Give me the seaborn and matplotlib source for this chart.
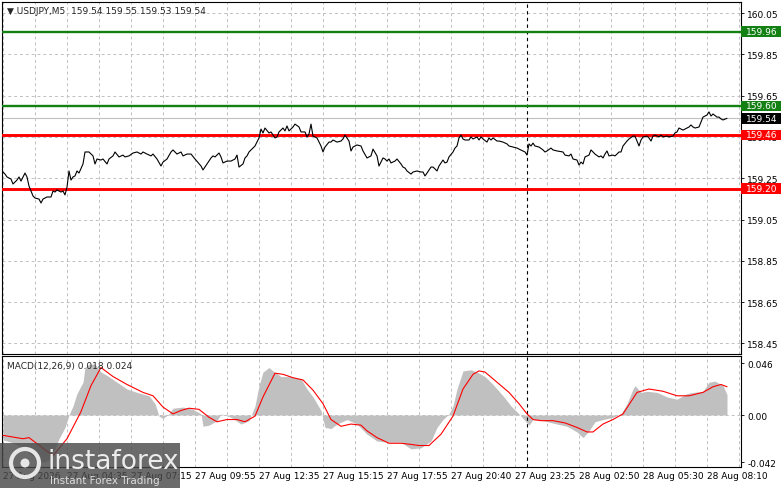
import numpy as np
import pandas as pd
import matplotlib
matplotlib.use("Agg")
import matplotlib.pyplot as plt
import matplotlib.transforms as mtransforms
from matplotlib.patches import Rectangle, Circle
import seaborn as sns

# USDJPY M5 closes (bar index from the left, price)
bars = [0, 1, 2, 4, 5, 7, 8, 9, 10, 11, 12, 13, 15, 16, 18, 19, 20, 22, 24, 25, 26, 27, 29, 30, 31, 32, 33, 34, 35, 36, 37, 38,
        40, 41, 43, 45, 46, 47, 49, 50, 52, 53, 55, 56, 58, 60, 61, 63, 65, 67, 69, 70, 72, 74, 75, 77, 79, 80, 82, 84, 85, 87,
        89, 90, 92, 94, 96, 99, 100, 102, 103, 104, 105, 106, 108, 109, 110, 112, 114, 116, 117, 118, 120, 121, 122, 123, 125,
        126, 128, 129, 130, 131, 133, 134, 136, 137, 138, 140, 141, 142, 143, 145, 146, 148, 149, 151, 152, 153, 154, 155, 157,
        158, 159, 160, 161, 163, 164, 165, 167, 169, 170, 171, 173, 174, 175, 177, 179, 180, 182, 184, 185, 187, 188, 190, 191,
        192, 193, 194, 196, 197, 199, 200, 201, 202, 204, 205, 207, 209, 210, 211, 212, 214, 215, 216, 217, 218, 220, 221, 222,
        223, 225, 226, 227, 228, 229, 230, 231, 233, 234, 235, 237, 238, 239, 240, 242, 243, 244, 245, 247, 248, 250, 252, 253,
        255, 257, 258, 260, 261, 262, 263, 264, 265, 266, 268, 270, 271, 272, 274, 275, 277, 280, 281, 283, 284, 285, 287, 288,
        289, 290, 291, 293, 294, 295, 296, 298, 299, 300, 301, 302, 303, 305, 306, 307, 308, 309, 310, 312, 313, 315, 316, 317,
        318, 319, 320, 322, 323, 324, 325, 326, 328, 329, 330, 332, 333, 335, 336, 337, 338, 340, 341, 343, 344, 345, 346, 348,
        349, 350, 352, 353, 354, 355, 357, 358, 359, 360, 362]
close = [159.280, 159.270, 159.256, 159.246, 159.222, 159.241, 159.256, 159.236, 159.256, 159.275, 159.256, 159.212, 159.164,
         159.154, 159.149, 159.130, 159.149, 159.159, 159.159, 159.188, 159.183, 159.193, 159.183, 159.188, 159.169, 159.207,
         159.285, 159.241, 159.256, 159.261, 159.285, 159.275, 159.319, 159.377, 159.377, 159.358, 159.319, 159.343, 159.338,
         159.343, 159.319, 159.343, 159.358, 159.377, 159.353, 159.362, 159.353, 159.358, 159.372, 159.377, 159.367, 159.377,
         159.367, 159.358, 159.367, 159.343, 159.309, 159.328, 159.343, 159.377, 159.387, 159.367, 159.377, 159.358, 159.367,
         159.367, 159.343, 159.309, 159.290, 159.319, 159.333, 159.348, 159.358, 159.353, 159.372, 159.353, 159.324, 159.333,
         159.333, 159.343, 159.362, 159.304, 159.319, 159.348, 159.358, 159.377, 159.396, 159.406, 159.445, 159.488, 159.469,
         159.493, 159.469, 159.474, 159.445, 159.450, 159.474, 159.493, 159.479, 159.503, 159.479, 159.498, 159.512, 159.498,
         159.474, 159.474, 159.450, 159.464, 159.512, 159.454, 159.445, 159.425, 159.406, 159.377, 159.401, 159.425, 159.425,
         159.435, 159.425, 159.430, 159.440, 159.459, 159.430, 159.382, 159.401, 159.411, 159.406, 159.382, 159.348, 159.358,
         159.391, 159.358, 159.309, 159.348, 159.343, 159.333, 159.343, 159.324, 159.333, 159.343, 159.319, 159.304, 159.299,
         159.285, 159.270, 159.280, 159.285, 159.280, 159.280, 159.261, 159.275, 159.304, 159.304, 159.295, 159.285, 159.309,
         159.338, 159.324, 159.328, 159.353, 159.377, 159.396, 159.406, 159.445, 159.459, 159.440, 159.435, 159.435, 159.450,
         159.440, 159.450, 159.435, 159.450, 159.440, 159.425, 159.445, 159.435, 159.445, 159.430, 159.430, 159.425, 159.416,
         159.406, 159.401, 159.396, 159.391, 159.382, 159.377, 159.362, 159.416, 159.406, 159.420, 159.406, 159.401, 159.387,
         159.377, 159.382, 159.396, 159.387, 159.382, 159.377, 159.362, 159.358, 159.367, 159.343, 159.338, 159.314, 159.328,
         159.319, 159.353, 159.362, 159.387, 159.377, 159.367, 159.353, 159.358, 159.348, 159.367, 159.382, 159.358, 159.362,
         159.358, 159.367, 159.377, 159.377, 159.406, 159.430, 159.440, 159.454, 159.454, 159.430, 159.406, 159.435, 159.450,
         159.454, 159.445, 159.430, 159.454, 159.459, 159.450, 159.459, 159.450, 159.454, 159.450, 159.454, 159.469, 159.474,
         159.493, 159.483, 159.488, 159.498, 159.508, 159.498, 159.493, 159.498, 159.522, 159.546, 159.556, 159.571, 159.551,
         159.561, 159.546, 159.546, 159.537, 159.532, 159.540]

# MACD(12,26,9): main as histogram, signal as red line
hist_bars = [0, 4, 9, 14, 19, 23, 26, 28, 31, 33, 35, 37, 40, 41, 43, 46, 49, 52, 57, 62, 67, 73, 76, 78, 80, 83, 85, 90, 95,
             99, 100, 103, 107, 109, 114, 119, 123, 126, 128, 130, 133, 135, 139, 144, 149, 152, 155, 159, 161, 164, 167, 172,
             177, 182, 187, 192, 199, 204, 209, 214, 217, 220, 223, 225, 227, 230, 234, 237, 241, 245, 250, 254, 258, 261, 263,
             265, 270, 277, 282, 287, 290, 293, 296, 300, 305, 309, 312, 315, 316, 319, 322, 327, 332, 337, 342, 345, 350, 353,
             356, 360, 362]
hist = [-0.022, -0.024, -0.028, -0.035, -0.042, -0.040, -0.030, -0.021, -0.011, 0.000, 0.008, 0.019, 0.029, 0.042, 0.045,
        0.045, 0.038, 0.035, 0.029, 0.023, 0.020, 0.017, 0.010, -0.001, -0.003, 0.001, 0.006, 0.007, 0.005, 0.001, -0.010,
        -0.009, -0.005, 0.001, -0.002, -0.008, -0.005, 0.008, 0.026, 0.038, 0.042, 0.039, 0.034, 0.034, 0.032, 0.023, 0.016,
        0.004, -0.011, -0.012, -0.008, -0.004, -0.008, -0.017, -0.023, -0.024, -0.024, -0.030, -0.029, -0.023, -0.011, -0.004,
        0.001, 0.008, 0.023, 0.039, 0.040, 0.038, 0.034, 0.027, 0.017, 0.008, 0.001, -0.005, -0.009, -0.004, -0.005, -0.008,
        -0.010, -0.015, -0.020, -0.014, -0.006, -0.004, -0.002, 0.001, 0.010, 0.023, 0.026, 0.020, 0.021, 0.020, 0.016, 0.014,
        0.019, 0.020, 0.021, 0.029, 0.030, 0.026, 0.018]
sig_bars = [0, 10, 13, 19, 25, 32, 39, 44, 49, 55, 62, 70, 75, 80, 85, 89, 93, 98, 103, 107, 112, 117, 121, 126, 130, 136, 140,
            145, 150, 155, 160, 164, 169, 174, 179, 182, 187, 193, 199, 204, 208, 213, 219, 225, 230, 235, 238, 241, 247, 253,
            258, 262, 265, 269, 275, 281, 287, 292, 295, 300, 305, 310, 317, 323, 330, 337, 343, 350, 355, 359, 362]
signal = [-0.018, -0.021, -0.020, -0.028, -0.036, -0.021, 0.003, 0.026, 0.042, 0.034, 0.027, 0.020, 0.017, 0.007, 0.001,
          0.004, 0.006, 0.005, -0.002, -0.006, -0.004, -0.004, -0.006, -0.001, 0.016, 0.037, 0.036, 0.033, 0.031, 0.022,
          0.010, -0.004, -0.010, -0.008, -0.009, -0.014, -0.020, -0.025, -0.025, -0.026, -0.027, -0.027, -0.017, -0.001,
          0.023, 0.036, 0.039, 0.038, 0.029, 0.020, 0.010, 0.001, -0.004, -0.005, -0.005, -0.007, -0.011, -0.015, -0.015,
          -0.008, -0.004, 0.001, 0.020, 0.023, 0.021, 0.017, 0.017, 0.020, 0.025, 0.027, 0.025]

time_labels = ["27 Aug 2026", "27 Aug 04:35", "27 Aug 07:15", "27 Aug 09:55", "27 Aug 12:35", "27 Aug 15:15",
               "27 Aug 17:55", "27 Aug 20:40", "27 Aug 23:25", "28 Aug 02:50", "28 Aug 05:30", "28 Aug 08:10"]
price_ticks = [160.05, 159.85, 159.65, 159.45, 159.25, 159.05, 158.85, 158.65, 158.45]
green_levels = [159.96, 159.60]
red_levels = [159.46, 159.20]
last_price = 159.54
marker_bar = 262

sns.set_style("white")
plt.rcParams['font.family'] = ['DejaVu Sans']
plt.rcParams['font.size'] = 6.5

W, H = 781, 489
fig = plt.figure(figsize=(W / 100, H / 100), dpi=100)
ax = fig.add_axes([2 / W, 1 - 355 / H, 739 / W, 352 / H])
ax2 = fig.add_axes([2 / W, 1 - 468 / H, 739 / W, 111 / H])

grid_kw = dict(color='#c0c0c0', linestyle=(0, (3, 3)), linewidth=0.7)
grid_x = np.arange(0, 369, 16)

for a in (ax, ax2):
    a.set_xlim(-0.5, 369)
    a.set_xticks(grid_x)
    a.grid(True, axis='x', **grid_kw)
    a.axvline(marker_bar, color='black', linestyle=(0, (3, 3)), linewidth=0.8, zorder=3)
    for s in a.spines.values():
        s.set_color('black')
        s.set_linewidth(0.8)
    a.yaxis.tick_right()
    a.tick_params(axis='y', direction='out', length=2.5, width=0.6, pad=2, labelsize=6.5, colors='black')

# main price panel
ax.set_ylim(158.3987, 160.1033)
ax.set_yticks(price_ticks)
ax.set_yticklabels([f"{v:.2f}" for v in price_ticks])
ax.grid(True, axis='y', **grid_kw)
ax.tick_params(axis='x', length=0, labelbottom=False)

df = pd.DataFrame({'bar': bars, 'close': close})
sns.lineplot(data=df, x='bar', y='close', ax=ax, color='black', linewidth=0.8, zorder=4)
ax.set_xlabel('')
ax.set_ylabel('')

ax.axhline(last_price, color='#c0c0c0', linewidth=0.8, zorder=2)
for v in green_levels:
    ax.axhline(v, color='#138013', linewidth=1.7, zorder=3)
for v in red_levels:
    ax.axhline(v, color='#ff0000', linewidth=2.1, zorder=3)

# price tags on the right scale
blend = mtransforms.blended_transform_factory(ax.transAxes, ax.transData)
box_h = 10.5 / 206.5
for v, c in [(green_levels[0], '#138013'), (green_levels[1], '#138013'), (last_price, '#000000'),
             (red_levels[0], '#ff0000'), (red_levels[1], '#ff0000')]:
    ax.add_patch(Rectangle((1.0, v - box_h / 2), 40 / 739, box_h, transform=blend,
                           facecolor=c, edgecolor='none', clip_on=False, zorder=10))
    ax.text(1.0 + 5 / 739, v, f"{v:.2f}", transform=blend, ha='left', va='center',
            color='white', fontsize=6.5, zorder=11, clip_on=False)

# MACD panel
ax2.set_ylim(-0.046, 0.0522)
ax2.axhline(0, zorder=0.5, **grid_kw)
ax2.fill_between(hist_bars, hist, 0, color='#c0c0c0', linewidth=0, zorder=1)
sns.lineplot(x=sig_bars, y=signal, ax=ax2, color='#ff0000', linewidth=0.8, zorder=4)
ax2.set_xlabel('')
ax2.set_ylabel('')
ax2.set_yticks([0.046, 0.0, -0.042])
ax2.set_yticklabels(['0.046', '0.00', '-0.042'])
ax2.set_xticks(grid_x)
ax2.set_xticklabels([time_labels[i // 2] if i % 2 == 0 else '' for i in range(len(grid_x))])
ax2.tick_params(axis='x', length=0, pad=3, labelsize=6.5, colors='black')
for lbl in ax2.get_xticklabels():
    lbl.set_ha('left')

fig.text(7 / W, 1 - 11 / H, "\u25bc USDJPY,M5  159.54 159.55 159.53 159.54", fontsize=6.5, va='center')
fig.text(7 / W, 1 - 367 / H, "MACD(12,26,9) 0.018 0.024", fontsize=6.5, va='center')

# instaforex watermark
fig.patches.append(Rectangle((0, 0), 180 / W, 45 / H, transform=fig.transFigure,
                             facecolor='#4a4a4a', edgecolor='none', alpha=0.82, zorder=20))
fig.patches.append(Circle((0.25, 0.25), 0.14, transform=fig.dpi_scale_trans,
                          facecolor='none', edgecolor='#e6e6e6', linewidth=3, zorder=21))
fig.patches.append(Circle((0.25, 0.25), 0.045, transform=fig.dpi_scale_trans,
                          facecolor='#e6e6e6', edgecolor='none', zorder=21))
fig.text(48 / W, 1 - 462 / H, "instaforex", fontsize=19, color='#ececec', va='center', zorder=22)
fig.text(50 / W, 1 - 481 / H, "Instant Forex Trading", fontsize=7.5, color='#dcdcdc', va='center', zorder=22)

fig.savefig("out.png", dpi=100)
